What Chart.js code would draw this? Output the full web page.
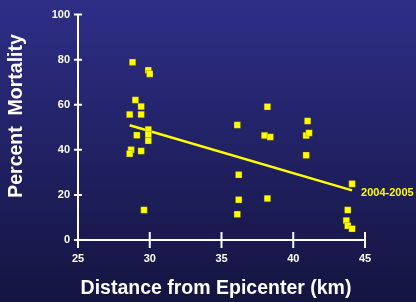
<!DOCTYPE html>
<html><head><meta charset="utf-8">
<script src="https://cdn.jsdelivr.net/npm/chart.js@4"></script>
<style>
html,body{margin:0;padding:0;}
body{width:416px;height:302px;background:linear-gradient(#2e2e88,#141440);}
#wrap{width:416px;height:302px;}
</style></head>
<body><div id="wrap"><canvas id="c" width="416" height="302"></canvas></div>
<script>
const distanceKm = [28.8,29.9,30.0,29.0,29.4,28.6,29.4,29.1,29.9,29.9,29.9,28.7,28.6,29.4,29.6,
  38.2,36.1,38.0,38.4,41.0,40.9,41.1,40.9,36.2,44.1,36.2,38.2,36.1,43.8,43.7,43.8,44.1];
const mortality = [78.9,75.3,73.7,62.1,59.2,55.7,55.7,46.5,49.0,46.8,44.0,40.0,38.3,39.5,13.3,
  59.1,51.0,46.4,45.7,52.8,46.4,47.5,37.6,28.9,24.9,17.9,18.4,11.4,13.3,8.6,6.3,5.0];
const trendX = [28.6, 44.1];
const trendY = [50.9, 22.0];
const trendLabel = "2004-2005";
const yTicks = [0,20,40,60,80,100];
const xTicks = [25,30,35,40,45];
const xTitle = "Distance from Epicenter (km)";
const yTitle = "Percent  Mortality";

const points = distanceKm.map((x,i)=>({x, y: mortality[i]}));
const trend = trendX.map((x,i)=>({x, y: trendY[i]}));

const crossTicks = {
  id:'crossTicks',
  afterDraw(chart){
    const ctx = chart.ctx, xs = chart.scales.x, ys = chart.scales.y;
    ctx.save();
    ctx.strokeStyle = '#ffffff';
    ctx.lineWidth = 2;
    const ax = xs.left, ay = ys.bottom;
    ctx.beginPath();
    yTicks.forEach(v=>{ const p = ys.getPixelForValue(v); ctx.moveTo(ax-4,p); ctx.lineTo(ax+4,p); });
    xTicks.forEach(v=>{ const p = xs.getPixelForValue(v); ctx.moveTo(p,ay-8); ctx.lineTo(p,ay+8); });
    ctx.stroke();
    // trend label
    const last = trend[trend.length-1];
    ctx.fillStyle = '#ffff00';
    ctx.font = 'bold 11px "Liberation Sans", Arial, sans-serif';
    ctx.textBaseline = 'middle';
    ctx.textAlign = 'left';
    ctx.fillText(trendLabel, xs.getPixelForValue(last.x)+9, ys.getPixelForValue(last.y)+3);
    // titles
    ctx.fillStyle = '#ffffff';
    ctx.font = 'bold 19.5px "Liberation Sans", Arial, sans-serif';
    ctx.textAlign = 'center';
    ctx.fillText(xTitle, 216, 289);
    ctx.translate(17, 116);
    ctx.rotate(-Math.PI/2);
    ctx.fillText(yTitle, 0, 0);
    ctx.restore();
  }
};

new Chart(document.getElementById('c'), {
  type: 'scatter',
  data: { datasets: [
    { type:'line', data: trend, borderColor:'#ffff00', borderWidth:2.5, pointRadius:0, fill:false, order:2 },
    { data: points, pointStyle:'rect', pointRadius:4.6, backgroundColor:'#ffff00', borderColor:'rgba(80,80,0,0.6)', borderWidth:0.5, order:1 }
  ]},
  options: {
    responsive:false, animation:false,
    layout:{ padding:{ left:0, top:12, right:51, bottom:0 } },
    plugins:{ legend:{display:false}, tooltip:{enabled:false} },
    scales:{
      x:{ type:'linear', min:25, max:45,
        afterFit(s){ s.height = 62; },
        afterBuildTicks(s){ s.ticks = xTicks.map(v=>({value:v})); },
        grid:{ display:false, drawTicks:false },
        border:{ display:true, color:'#ffffff', width:2 },
        ticks:{ color:'#ffffff', padding:12, font:{ family:'"Liberation Sans", Arial, sans-serif', size:11, weight:'bold' }, maxRotation:0 }
      },
      y:{ type:'linear', min:0, max:100,
        afterFit(s){ s.width = 78; },
        afterBuildTicks(s){ s.ticks = yTicks.map(v=>({value:v})); },
        grid:{ display:false, drawTicks:false },
        border:{ display:true, color:'#ffffff', width:2 },
        ticks:{ color:'#ffffff', padding:8, font:{ family:'"Liberation Sans", Arial, sans-serif', size:11, weight:'bold' } }
      }
    }
  },
  plugins:[crossTicks]
});
</script></body></html>
